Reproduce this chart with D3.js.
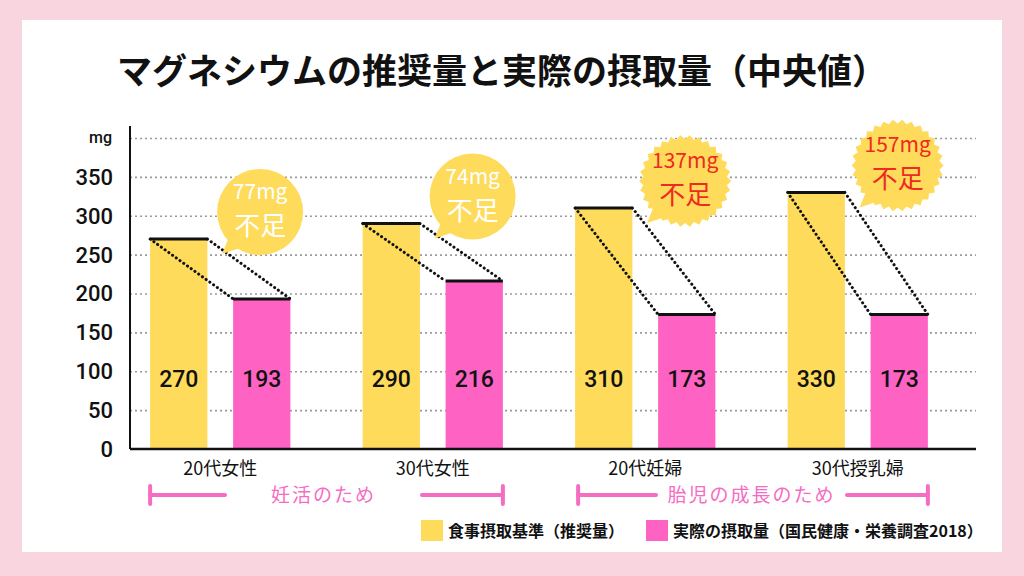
<!DOCTYPE html>
<html>
<head>
<meta charset="utf-8">
<script src="https://cdn.jsdelivr.net/npm/d3@7"></script>
<style>
  body { margin: 0; background: #f9d5df; }
  svg { display: block; }
  text { font-family: "Noto Sans CJK JP", "Noto Sans", sans-serif; }
  .num { font-family: Roboto, "Noto Sans", sans-serif; }
</style>
</head>
<body>
<svg id="chart" width="1024" height="576"></svg>
<script>
// data
let categories = ['20代女性', '30代女性', '20代妊婦', '30代授乳婦'];
let recommended = [270, 290, 310, 330];
let actual = [193, 216, 173, 173];
let shortfall = [77, 74, 137, 157];
let yTicks = [0, 50, 100, 150, 200, 250, 300, 350];
let seriesNames = ['食事摂取基準（推奨量）', '実際の摂取量（国民健康・栄養調査2018）'];
let brackets = ['妊活のため', '胎児の成長のため'];

let yellow = '#fedb5b';
let pink = '#fe63c4';
let bracketPink = '#f56cc3';

let svg = d3.select('#chart');

// white panel
svg.append('rect')
    .attr('x', 22).attr('y', 20)
    .attr('width', 980).attr('height', 532)
    .attr('fill', '#ffffff');

// title
svg.append('text')
    .attr('x', 502).attr('y', 84)
    .attr('text-anchor', 'middle')
    .attr('font-size', 35)
    .attr('font-weight', 'bold')
    .attr('fill', '#111')
    .text('マグネシウムの推奨量と実際の摂取量（中央値）');

// scales
const xScale = d3.scaleBand()
    .domain(categories)
    .range([114, 964])
    .paddingInner(0.34)
    .paddingOuter(0.17);

const xInner = d3.scaleBand()
    .domain(['rec', 'act'])
    .range([0, xScale.bandwidth()])
    .paddingInner(0.31);

const yScale = d3.scaleLinear()
    .domain([0, 400])
    .range([449, 138]);

let axisX = 130;
let axisRight = 976;

// dotted grid
svg.append('g')
    .attr('transform', `translate(${axisX}, 0)`)
    .call(d3.axisLeft(yScale)
        .tickValues([50, 100, 150, 200, 250, 300, 350, 400])
        .tickSize(-(axisRight - axisX))
        .tickFormat(''))
    .call(g => g.select('.domain').remove())
    .call(g => g.selectAll('line')
        .attr('stroke', '#9a9a9a')
        .attr('stroke-width', 1.6)
        .attr('stroke-dasharray', '2,3'));

// y tick labels
svg.append('g').selectAll('text')
    .data(yTicks)
    .enter()
    .append('text')
    .attr('class', 'num')
    .attr('x', 113)
    .attr('y', d => yScale(d))
    .attr('dy', '0.36em')
    .attr('text-anchor', 'end')
    .attr('font-size', 22)
    .attr('font-weight', 500)
    .attr('fill', '#111')
    .text(d => d);

svg.append('text')
    .attr('class', 'num')
    .attr('x', 112).attr('y', yScale(400))
    .attr('dy', '0.3em')
    .attr('text-anchor', 'end')
    .attr('font-size', 16)
    .attr('font-weight', 500)
    .attr('fill', '#111')
    .text('mg');

// bars
let groups = svg.append('g').selectAll('g')
    .data(categories)
    .enter()
    .append('g')
    .attr('transform', d => `translate(${xScale(d)}, 0)`);

groups.append('rect')
    .attr('x', xInner('rec'))
    .attr('y', (d, i) => yScale(recommended[i]))
    .attr('width', xInner.bandwidth())
    .attr('height', (d, i) => yScale(0) - yScale(recommended[i]))
    .attr('fill', yellow);

groups.append('rect')
    .attr('x', xInner('act'))
    .attr('y', (d, i) => yScale(actual[i]))
    .attr('width', xInner.bandwidth())
    .attr('height', (d, i) => yScale(0) - yScale(actual[i]))
    .attr('fill', pink);

// top lines
groups.append('line')
    .attr('x1', xInner('rec')).attr('x2', xInner('rec') + xInner.bandwidth())
    .attr('y1', (d, i) => yScale(recommended[i])).attr('y2', (d, i) => yScale(recommended[i]))
    .attr('stroke', '#111').attr('stroke-width', 3);

groups.append('line')
    .attr('x1', xInner('act')).attr('x2', xInner('act') + xInner.bandwidth())
    .attr('y1', (d, i) => yScale(actual[i])).attr('y2', (d, i) => yScale(actual[i]))
    .attr('stroke', '#111').attr('stroke-width', 3);

// dotted connectors
[0, xInner.bandwidth()].forEach(off => {
    groups.append('line')
        .attr('x1', xInner('rec') + off)
        .attr('x2', xInner('act') + off)
        .attr('y1', (d, i) => yScale(recommended[i]))
        .attr('y2', (d, i) => yScale(actual[i]))
        .attr('stroke', '#111')
        .attr('stroke-width', 3)
        .attr('stroke-linecap', 'round')
        .attr('stroke-dasharray', '0.1,4.5');
});

// value labels
groups.append('text')
    .attr('class', 'num')
    .attr('x', xInner('rec') + xInner.bandwidth() / 2)
    .attr('y', yScale(90))
    .attr('dy', '0.36em')
    .attr('text-anchor', 'middle')
    .attr('font-size', 23)
    .attr('font-weight', 500)
    .attr('fill', '#111')
    .text((d, i) => recommended[i]);

groups.append('text')
    .attr('class', 'num')
    .attr('x', xInner('act') + xInner.bandwidth() / 2)
    .attr('y', yScale(90))
    .attr('dy', '0.36em')
    .attr('text-anchor', 'middle')
    .attr('font-size', 23)
    .attr('font-weight', 500)
    .attr('fill', '#111')
    .text((d, i) => actual[i]);

// callouts
function starPath(r1, r2, n) {
    let pts = [];
    for (let k = 0; k < n * 2; k++) {
        let a = Math.PI * k / n;
        let r = k % 2 == 0 ? r1 : r2;
        pts.push([r * Math.cos(a), r * Math.sin(a)]);
    }
    return 'M' + pts.map(p => p.join(',')).join('L') + 'Z';
}

groups.each(function(d, i) {
    let g = d3.select(this).append('g')
        .attr('transform', `translate(${110}, ${yScale(recommended[i]) - 27})`);
    let isStar = i >= 2;
    g.append('path')
        .attr('d', 'M-30,22 L-38,42 L-14,34 Z')
        .attr('fill', yellow);
    if (isStar) {
        g.append('path')
            .attr('d', starPath(46, 42, 30))
            .attr('fill', yellow);
    } else {
        g.append('circle')
            .attr('r', 43)
            .attr('fill', yellow);
    }
    let col = isStar ? '#ee2a22' : '#ffffff';
    g.append('text')
        .attr('y', -13)
        .attr('text-anchor', 'middle')
        .attr('font-size', 21)
        .attr('fill', col)
        .text(shortfall[i] + 'mg');
    g.append('text')
        .attr('y', 23)
        .attr('text-anchor', 'middle')
        .attr('font-size', 26)
        .attr('fill', col)
        .text('不足');
});

// axes lines
svg.append('line')
    .attr('x1', axisX).attr('x2', axisX)
    .attr('y1', 126).attr('y2', yScale(0))
    .attr('stroke', '#111').attr('stroke-width', 2);
svg.append('line')
    .attr('x1', axisX).attr('x2', axisRight)
    .attr('y1', yScale(0)).attr('y2', yScale(0))
    .attr('stroke', '#111').attr('stroke-width', 2.5);

// category labels
svg.append('g').selectAll('text')
    .data(categories)
    .enter()
    .append('text')
    .attr('x', d => xScale(d) + xScale.bandwidth() / 2)
    .attr('y', 475)
    .attr('text-anchor', 'middle')
    .attr('font-size', 18)
    .attr('fill', '#111')
    .text(d => d);

// brackets
function drawBracket(left, right, label, gapL, gapR) {
    let y = 495;
    let b = svg.append('g');
    b.append('line').attr('x1', left).attr('x2', gapL).attr('y1', y).attr('y2', y);
    b.append('line').attr('x1', gapR).attr('x2', right).attr('y1', y).attr('y2', y);
    b.append('line').attr('x1', left).attr('x2', left).attr('y1', y - 9).attr('y2', y + 9);
    b.append('line').attr('x1', right).attr('x2', right).attr('y1', y - 9).attr('y2', y + 9);
    b.selectAll('line')
        .attr('stroke', bracketPink)
        .attr('stroke-width', 4)
        .attr('stroke-linecap', 'round');
    b.append('text')
        .attr('x', (gapL + gapR) / 2)
        .attr('y', y)
        .attr('dy', '0.36em')
        .attr('text-anchor', 'middle')
        .attr('font-size', 19)
        .attr('letter-spacing', 2)
        .attr('fill', bracketPink)
        .text(label);
}
let g0 = xScale(categories[0]), g1 = xScale(categories[1]) + xScale.bandwidth();
let g2 = xScale(categories[2]) + 3, g3 = xScale(categories[3]) + xScale.bandwidth();
drawBracket(g0, g1, brackets[0], 225, 422);
drawBracket(g2, g3, brackets[1], 656, 847);

// legend
let legendX = [421, 646];
let legendCol = [yellow, pink];
seriesNames.forEach((name, i) => {
    svg.append('rect')
        .attr('x', legendX[i]).attr('y', 520)
        .attr('width', 22).attr('height', 21)
        .attr('fill', legendCol[i]);
    svg.append('text')
        .attr('x', legendX[i] + 27).attr('y', 531)
        .attr('dy', '0.36em')
        .attr('font-size', 16)
        .attr('font-weight', 'bold')
        .attr('fill', '#111')
        .text(name);
});
</script>
</body>
</html>
